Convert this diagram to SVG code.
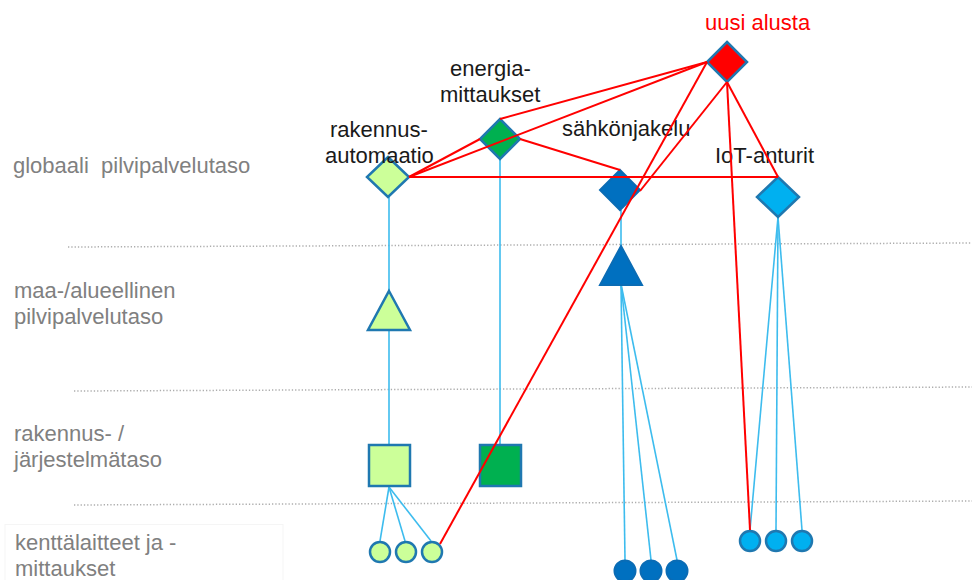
<svg xmlns="http://www.w3.org/2000/svg" width="972" height="580" viewBox="0 0 972 580">
<style>
.lbl{font-family:"Liberation Sans",Arial,sans-serif;font-size:22px;fill:#1a1a1a}
.lvl{font-family:"Liberation Sans",Arial,sans-serif;font-size:22px;fill:#808080;white-space:pre}
.red{fill:#ff0000}
.sep{stroke:#adadad;stroke-width:1.5;stroke-dasharray:1.3 2;fill:none}
.bl{stroke:#3dbcee;stroke-width:1.6;fill:none}
.rd{stroke:#ff0000;stroke-width:2;fill:none}
.o{stroke:#1f78b0;stroke-width:2.5}
.lg{fill:#ccff99}
.g{fill:#00b050}
.db{fill:#0070c0;stroke:#0a6cb5;stroke-width:2}
.lb{fill:#00b0f0}
</style>
<rect width="972" height="580" fill="#ffffff"/>
<g id="separators">
<line class="sep" x1="68" y1="247" x2="972" y2="243"/>
<line class="sep" x1="74" y1="391" x2="972" y2="387"/>
<line class="sep" x1="74" y1="505" x2="972" y2="501"/>
</g>
<g id="level-labels">
<text class="lvl" x="13" y="173">globaali  pilvipalvelutaso</text>
<text class="lvl" x="14" y="298">maa-/alueellinen</text>
<text class="lvl" x="14" y="324">pilvipalvelutaso</text>
<text class="lvl" x="14" y="441">rakennus- /</text>
<text class="lvl" x="14" y="467">järjestelmätaso</text>
<rect x="5" y="524.5" width="278" height="60" fill="none" stroke="#f5f5f5" stroke-width="1"/>
<text class="lvl" x="15" y="550">kenttälaitteet ja -</text>
<text class="lvl" x="15" y="576">mittaukset</text>
</g>
<g id="connectors-blue">
<line class="bl" x1="389" y1="197" x2="389" y2="290"/>
<line class="bl" x1="389" y1="330" x2="389" y2="445"/>
<line class="bl" x1="389" y1="487" x2="380" y2="541"/>
<line class="bl" x1="389" y1="487" x2="405" y2="541"/>
<line class="bl" x1="389" y1="487" x2="431" y2="541"/>
<line class="bl" x1="500" y1="159" x2="500" y2="445"/>
<line class="bl" x1="621" y1="210" x2="621" y2="246"/>
<line class="bl" x1="621" y1="284" x2="625" y2="560"/>
<line class="bl" x1="621" y1="284" x2="651" y2="560"/>
<line class="bl" x1="621" y1="284" x2="677" y2="560"/>
<line class="bl" x1="778" y1="217" x2="750" y2="530"/>
<line class="bl" x1="778" y1="217" x2="776" y2="530"/>
<line class="bl" x1="778" y1="217" x2="802" y2="530"/>
</g>
<g id="node-uusi-alusta">
<polygon class="red o" points="727,42 747,62 727,82 707,62"/>
<text class="lbl red" x="705" y="30">uusi alusta</text>
</g>
<g id="node-energiamittaukset">
<polygon class="g o" points="500,119 520,139 500,159 480,139"/>
<text class="lbl" x="450" y="76">energia-</text>
<text class="lbl" x="440" y="102">mittaukset</text>
</g>
<g id="node-rakennusautomaatio">
<polygon class="lg o" points="388,157 409,177 388,197 367,177"/>
<text class="lbl" x="330" y="137">rakennus-</text>
<text class="lbl" x="325" y="163">automaatio</text>
</g>
<g id="node-sahkonjakelu">
<polygon class="db" points="620,170 640,190 620,210 600,190"/>
<text class="lbl" x="562" y="136">sähkönjakelu</text>
</g>
<g id="node-iot-anturit">
<polygon class="lb o" points="778,177 799,197 778,217 757,197"/>
<text class="lbl" x="715" y="163">IoT-anturit</text>
</g>
<g id="node-ra-triangle">
<polygon class="lg o" points="389,291 410,330 368,330"/>
</g>
<g id="node-sahko-triangle">
<polygon class="db" points="621,246 642,285 600,285"/>
</g>
<g id="node-ra-square">
<rect class="lg o" x="369" y="445" width="41" height="41"/>
</g>
<g id="node-em-square">
<rect class="g o" x="480" y="445" width="41" height="41"/>
</g>
<g id="node-ra-devices">
<circle class="lg o" cx="380" cy="552" r="10"/>
<circle class="lg o" cx="406" cy="552" r="10"/>
<circle class="lg o" cx="432" cy="552" r="10"/>
</g>
<g id="node-sahko-devices">
<circle class="db" cx="625" cy="571" r="10.5"/>
<circle class="db" cx="651" cy="571" r="10.5"/>
<circle class="db" cx="677" cy="571" r="10.5"/>
</g>
<g id="node-iot-devices">
<circle class="lb o" cx="750" cy="541" r="10"/>
<circle class="lb o" cx="776" cy="541" r="10"/>
<circle class="lb o" cx="802" cy="541" r="10"/>
</g>
<g id="connectors-red">
<line class="rd" x1="707" y1="62" x2="500" y2="119"/>
<line class="rd" x1="707" y1="62" x2="409" y2="177"/>
<line class="rd" x1="480" y1="139" x2="409" y2="177"/>
<line class="rd" x1="520" y1="139" x2="620" y2="170"/>
<line class="rd" x1="409" y1="177" x2="778" y2="177"/>
<line class="rd" x1="707" y1="62" x2="440" y2="544"/>
<line class="rd" x1="727" y1="82" x2="640" y2="191"/>
<line class="rd" x1="727" y1="82" x2="750" y2="530"/>
<line class="rd" x1="727" y1="82" x2="778" y2="177"/>
</g>
</svg>
